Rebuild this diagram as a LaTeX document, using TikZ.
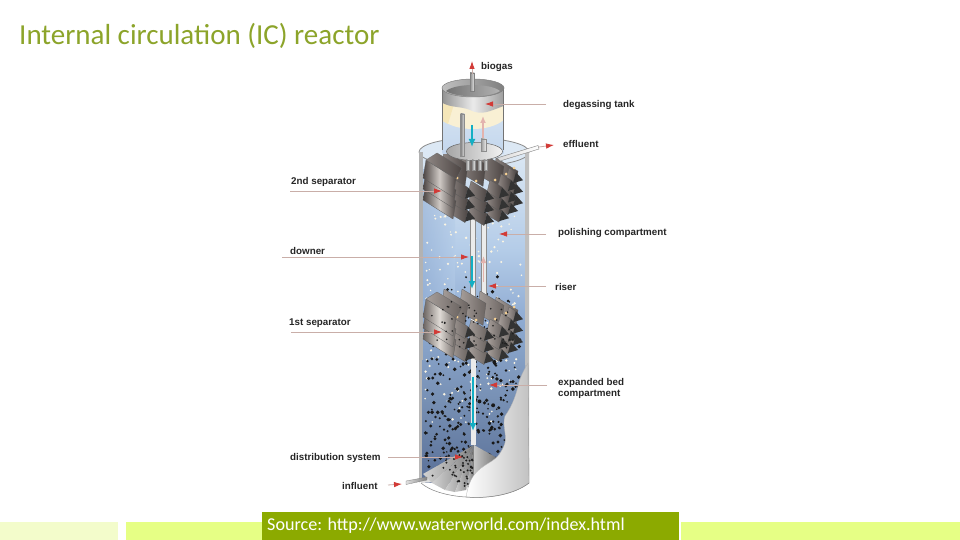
\documentclass[tikz,border=0pt]{standalone}
\usepackage{fontspec}
\setmainfont{Liberation Sans}
\newfontfamily\slidefont{Carlito}
\usetikzlibrary{arrows.meta,calc}
\definecolor{titleolive}{HTML}{8CA42A}
\definecolor{barolive}{HTML}{8CAA00}
\definecolor{barlime}{HTML}{E6FF85}
\definecolor{barpale}{HTML}{F3FCCB}
\definecolor{leader}{HTML}{C9AEA8}
\definecolor{tipred}{HTML}{D23A36}
\definecolor{flowcyan}{HTML}{12AFC4}
\definecolor{flowpink}{HTML}{E3B3AE}
\definecolor{cream}{HTML}{F5E6B8}
\definecolor{sepdarkA}{HTML}{4C4543}
\definecolor{sepmidA}{HTML}{8E8683}
\definecolor{seplightA}{HTML}{CFC9C5}
\definecolor{sepdarkB}{HTML}{6B6461}
\definecolor{sepmidB}{HTML}{A8A09C}
\definecolor{seplightB}{HTML}{E0DBD6}
\definecolor{waterA}{HTML}{DCE8F4}
\definecolor{waterB}{HTML}{B4CCE8}
\definecolor{waterC}{HTML}{8FABD2}
\definecolor{waterD}{HTML}{7790B4}
\definecolor{waterE}{HTML}{5A7098}
\tikzset{
  x=1pt,y=-1pt,
  lbl/.style={font=\bfseries\fontsize{9.8}{11}\selectfont,inner sep=0pt,anchor=west,text=black!85},
  leaderline/.style={draw=leader,line width=.8pt,-{Latex[color=tipred,length=8pt,width=5.5pt]}},
  cyanflow/.style={draw=flowcyan,line width=1.6pt,-{Latex[length=8pt,width=7pt]}},
  pinkflow/.style={draw=flowpink,line width=1.8pt,-{Latex[length=7pt,width=6pt]}},
  pipewhite/.style={draw=black!45,fill=black!8,line width=.4pt},
}
% one slanted separator vane: x,y,width,height,left tone,right tone
\newcommand\rvane[6]{%
  \path[left color=#5,right color=#6,draw=black!65,line width=.25pt]
    (#1,#2) -- ++(#3,0.6*#3) -- ++(-3,#4) -- ++(-#3,-0.6*#3) -- cycle;}
% a whole separator; #1=y shift, #2,#3,#4 = dark, mid and light tone
\newcommand\separatorblock[4]{%
  \begin{scope}[yshift=-#1pt]
    \foreach \bx/\by/\bw in {496/158/22,480/152/24,462/150/24,444/150/24}{
      \rvane{\bx}{\by}{\bw}{22}{#3}{#2}}
    \foreach \cx/\cy/\cw in {514/168/7,506/174/10,495/180/12,476/181/16,457/178/16}{
      \foreach \rw in {2,1,0}{
        \rvane{\cx-5}{\cy+\rw*11.5}{\cw}{12}{#3}{#2}
        \path[fill=black!80] ($(\cx-5,\cy+\rw*11.5)+(\cw,0.6*\cw)$) -- ++(7,8) -- ++(-10,3) -- cycle;
        \fill[cream!80!orange] (\cx,\cy+\rw*11.5) circle (1.5pt);
      }}
    \foreach \rw in {2,1,0}{
      \path[left color=#2,right color=#2,middle color=#4,draw=black!65,line width=.25pt]
        (426,160+\rw*11) -- ++(30,19) -- ++(-3,18) -- ++(-30,-19) -- cycle;}
    \path[left color=#3,right color=#2,draw=black!60,line width=.25pt]
      (426,160) -- (437,153) -- (462,168) -- (456,179) -- cycle;
  \end{scope}}
\begin{document}
\begin{tikzpicture}
\useasboundingbox (0,0) rectangle (960,540);
\fill[white] (0,0) rectangle (960,540);

% ---- title and footer
\node[inner sep=0pt,anchor=west,text=titleolive,font=\slidefont\fontsize{29}{32}\selectfont] (title) at (19,35.5) {Internal circulation (IC) reactor};
\fill[barpale] (0,522) rectangle (118,540);
\fill[barlime] (126,522) rectangle (262,540);
\fill[barlime] (681,522) rectangle (960,540);
\node[fill=barolive,minimum width=417pt,minimum height=28pt,inner sep=0pt,anchor=north west] (srcbar) at (262,512) {};
\node[inner sep=0pt,anchor=west,text=white,font=\slidefont\fontsize{18.1}{20}\selectfont] (source) at (267,526) {Source: http://www.waterworld.com/index.html};

% ---- outer vessel interior
\fill[black!28] (419,152) -- (419,483) arc[start angle=180,end angle=360,x radius=55,y radius=14] -- (529,152) -- cycle;
\path[top color=waterA,bottom color=waterB] (422,150) rectangle (525,250);
\path[top color=waterB,bottom color=waterC] (422,250) rectangle (525,320);
\path[top color=waterC,bottom color=waterD] (422,320) rectangle (525,400);
\path[top color=waterD,bottom color=waterE] (422,400) rectangle (525,482);
\path[left color=waterC,right color=waterB,opacity=.55] (422,170) rectangle (455,300);
% vessel rim
\draw[draw=black!45,fill=waterA,line width=.8pt] (474,152) ellipse[x radius=55,y radius=14];
\fill[black!30] (419,152) rectangle (423,360);
\fill[black!25] (525,152) rectangle (529,365);

% dots
\pgfmathsetseed{11}
\foreach \i in {1,...,170}{
  \pgfmathsetmacro\xx{425+rnd*98}\pgfmathsetmacro\yy{215+rnd*210}
  \pgfmathsetmacro\rr{.7+rnd*.7}
  \fill[white!60!cream] (\xx,\yy) circle (\rr pt);}
\foreach \i in {1,...,360}{
  \pgfmathsetmacro\xx{425+rnd*98}\pgfmathsetmacro\yy{268+sqrt(rnd)*212}
  \pgfmathsetmacro\rr{.8+rnd*1.2}
  \fill[black!90] (\xx,\yy) circle (\rr pt);}

% ---- central pipes
\fill[black!8] (470.5,217) rectangle (475.5,445);
\draw[black!45,line width=.4pt] (470.5,217) -- (470.5,300) (475.5,217) -- (475.5,300);
\fill[black!8] (481,217) rectangle (486,305);
\draw[black!45,line width=.4pt] (481,217) -- (481,305) (486,217) -- (486,305);

% ---- first and second separator
\separatorblock{0}{sepdarkA}{sepmidA}{seplightA}
\separatorblock{139}{sepdarkB}{sepmidB}{seplightB}
\foreach \i in {1,...,55}{
  \pgfmathsetmacro\xx{430+rnd*85}\pgfmathsetmacro\yy{300+rnd*48}
  \fill[black!88] (\xx,\yy) circle (.9pt);}

% ---- degassing tank
\path[top color=waterA,bottom color=waterB!80!white] (442.5,88) rectangle (503.5,154);
\fill[cream!60] (442.5,100) -- (503.5,100) -- (503.5,120) .. controls (490,132) and (456,132) .. (442.5,120) -- cycle;
\fill[cream] (442.5,104) -- (454,104) -- (448,124) -- (442.5,121) -- cycle;
\path[left color=black!42,right color=black!38,middle color=black!8] (442.5,88) -- (503.5,88) -- (503.5,106) .. controls (490,111) and (482,116) .. (470,110) .. controls (460,106) and (452,108) .. (442.5,103) -- cycle;
\draw[draw=black!55,line width=.5pt] (442.5,88) -- (442.5,150) (503.5,88) -- (503.5,150);
\path[left color=black!25,right color=black!50,draw=black!50,line width=.5pt] (473,88) ellipse[x radius=31,y radius=9];
\path[left color=black!55,right color=black!30] (446,91) .. controls (456,98) and (490,98) .. (500,91) .. controls (490,83) and (456,83) .. (446,91) -- cycle;

% tank disc and its pipes
\path[left color=black!35,right color=black!5,draw=black!60,line width=.5pt] (474.5,151.5) ellipse[x radius=28,y radius=9];
\path[pipewhite,left color=black!50,right color=black!10] (460.5,114) rectangle (464.5,156);
\path[pipewhite,left color=black!40,right color=black!8] (481,139) rectangle (486,151);
\foreach \px in {466,472,478,484}{
  \path[pipewhite,left color=black!40,right color=black!8] (\px,160) rectangle (\px+3,170);}
% effluent pipe
\path[left color=black!15,right color=white,draw=black!50,line width=.4pt] (497,158) -- (538,145.5) -- (539,149) -- (500,161) -- cycle;

% flows
\coordinate (cyan1a) at (472,125); \coordinate (cyan1b) at (472,147);
\coordinate (cyan2a) at (472,256); \coordinate (cyan2b) at (472,289);
\coordinate (cyan3a) at (473,377); \coordinate (cyan3b) at (473,431);
\coordinate (pink1a) at (483,138); \coordinate (pink1b) at (483,116);
\coordinate (pink2a) at (483.5,282); \coordinate (pink2b) at (483.5,256);
\draw[cyanflow] (cyan1a) -- (cyan1b);
\draw[cyanflow] (cyan2a) -- (cyan2b);
\draw[cyanflow] (cyan3a) -- (cyan3b);
\draw[pinkflow] (pink1a) -- (pink1b);
\draw[pinkflow] (pink2a) -- (pink2b);

% ---- floor and distribution cone
\fill[black!12] (421,483) arc[start angle=180,end angle=260,x radius=55,y radius=14] -- (470,480) -- cycle;
\coordinate (apex) at (474,445);
\foreach \ax/\ay/\bx/\by/\cA/\cB in {
  423/474/432/483/18/48, 432/483/445/490/18/52, 445/490/455/492/20/50,
  455/492/466/490/20/55, 466/490/474/476/22/52, 474/476/497/458/22/55}{
  \path[left color=black!\cA,right color=black!\cB] (apex) -- (\ax,\ay) -- (\bx,\by) -- cycle;
}
\foreach \i in {1,...,45}{
  \pgfmathsetmacro\ttv{sqrt(rnd)}\pgfmathsetmacro\uuv{rnd}
  \pgfmathsetmacro\xx{474+\ttv*(425-474+\uuv*(472-425))}
  \pgfmathsetmacro\yy{445+\ttv*(476-445+\uuv*12)}
  \fill[black!88] (\xx,\yy) circle (1.1pt);}

% ---- cut-away of the wall
\path[left color=white,right color=black!24,draw=black!30,line width=.3pt]
  (528,363) .. controls (523,372) and (521,376) .. (519,382)
  .. controls (517,392) and (513,405) .. (505,416)
  .. controls (502,425) and (507,435) .. (505,443)
  .. controls (502,452) and (497,458) .. (492,461)
  .. controls (484,466) and (476,470) .. (471,480)
  .. controls (468,486) and (467,492) .. (466,497)
  .. controls (490,499) and (515,494) .. (529,483) -- cycle;
\draw[black!50,line width=.5pt] (466,497) .. controls (490,499) and (515,494) .. (529,483);
\draw[black!50,line width=.5pt] (421,483) .. controls (430,491) and (448,496) .. (466,497);
\draw[black!35,line width=.4pt] (529,483) -- (528,363);

% ---- top and bottom stubs
\path[left color=black!45,right color=black!8,draw=black!50,line width=.3pt] (470,73) rectangle (474.5,91);
\path[left color=black!12,right color=black!50,draw=black!50,line width=.3pt] (406,481) -- (427,477) -- (427,480) -- (406,484.5) -- cycle;

% ---- labels
\node[lbl] (biogas) at (481,66.7) {biogas};
\node[lbl] (degas) at (563,104.7) {degassing tank};
\node[lbl] (effluent) at (563,143.7) {effluent};
\node[lbl] (sep2) at (291,181.7) {2nd separator};
\node[lbl] (polish) at (558,232.7) {polishing compartment};
\node[lbl] (downer) at (290,250.7) {downer};
\node[lbl] (riser) at (555,286.7) {riser};
\node[lbl] (sep1) at (289,322.7) {1st separator};
\node[lbl,align=left] (bed) at (558,388.2) {expanded bed\\compartment};
\node[lbl] (dist) at (290,457.7) {distribution system};
\node[lbl] (influent) at (342,485.7) {influent};

% ---- leader lines
\coordinate (pBiogasA) at (472,74);   \coordinate (pBiogasB) at (472,61);
\coordinate (pDegasA) at (546,104);   \coordinate (pDegasB) at (485,104);
\coordinate (pEffA) at (539,147);     \coordinate (pEffB) at (554,145);
\coordinate (pSep2A) at (290,191);    \coordinate (pSep2B) at (442,191);
\coordinate (pPolA) at (546,234);     \coordinate (pPolB) at (499,234);
\coordinate (pDownA) at (282,257);    \coordinate (pDownB) at (469,257);
\coordinate (pRisA) at (546,286);     \coordinate (pRisB) at (488,286);
\coordinate (pSep1A) at (291,332);    \coordinate (pSep1B) at (442,332);
\coordinate (pBedA) at (547,385);     \coordinate (pBedB) at (489,385);
\coordinate (pDistA) at (388,457);    \coordinate (pDistB) at (463,457);
\coordinate (pInfA) at (388,485);     \coordinate (pInfB) at (402,484);
\foreach \a/\b in {pBiogasA/pBiogasB,pDegasA/pDegasB,pEffA/pEffB,pSep2A/pSep2B,pPolA/pPolB,pDownA/pDownB,pRisA/pRisB,pSep1A/pSep1B,pBedA/pBedB,pDistA/pDistB,pInfA/pInfB}{
  \draw[leaderline] (\a) -- (\b);}
\end{tikzpicture}
\end{document}
